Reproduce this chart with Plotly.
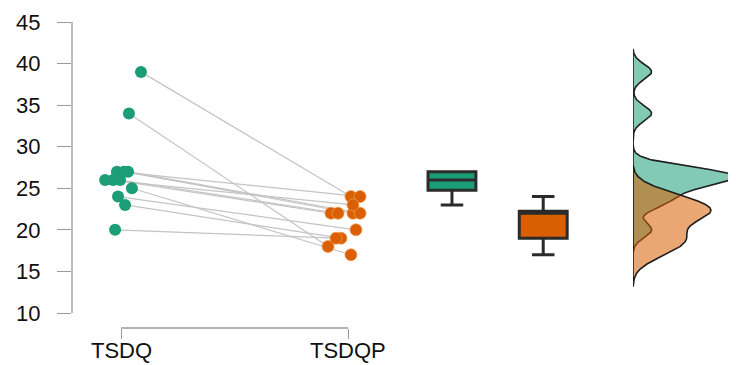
import numpy as np
import plotly.graph_objects as go

# ---- data ----
categories = ["TSDQ", "TSDQP"]
tsdq = [39, 34, 27, 27, 27, 26, 26, 26, 25, 24, 23, 20]
tsdqp = [24, 18, 24, 22, 22, 23, 22, 22, 17, 20, 19, 19]
jitter_tsdq = [0.088, 0.035, -0.018, 0.013, 0.031, -0.070, -0.035, -0.004, 0.048, -0.013, 0.018, -0.026]
jitter_tsdqp = [0.013, -0.088, 0.053, 0.022, 0.053, 0.022, -0.075, -0.044, 0.013, 0.035, -0.031, -0.053]
y_ticks = [10, 15, 20, 25, 30, 35, 40, 45]

GREEN = "#1b9e77"
ORANGE = "#d95f02"
FONT = "Liberation Sans"

# page body has an 8px margin: figure pixel = screen pixel - 8
OFF = 8
W, H = 736 - OFF, 365 - OFF
ML, MR, MT = 72 - OFF, 0, 22 - OFF
MB = H - (328 - OFF)
px_per_unit_x = 227.0
x_lo = 1 - (121 - 72) / px_per_unit_x
x_hi = x_lo + (W - ML - MR) / px_per_unit_x
px_per_unit_y = 291 / 35.0
y_lo = 45 - (H - MT - MB) / px_per_unit_y

xa = [1 + j for j in jitter_tsdq]
xb = [2 + j for j in jitter_tsdqp]

fig = go.Figure()

# connecting lines
lx, ly = [], []
for x1, y1, x2, y2 in zip(xa, tsdq, xb, tsdqp):
    lx += [x1, x2, None]
    ly += [y1, y2, None]
fig.add_trace(go.Scatter(x=lx, y=ly, mode="lines",
                         line=dict(color="#c4c4c4", width=1.2),
                         hoverinfo="skip", showlegend=False))

fig.add_trace(go.Scatter(x=xa, y=tsdq, mode="markers",
                         marker=dict(color=GREEN, size=12, line=dict(width=0)),
                         showlegend=False))
fig.add_trace(go.Scatter(x=xb, y=tsdqp, mode="markers",
                         marker=dict(color=ORANGE, size=12,
                                     line=dict(width=1, color="rgba(240,150,80,0.8)")),
                         showlegend=False))


# boxplots (R-style stats)
def stats(v):
    a = np.array(v, dtype=float)
    q1, med, q3 = np.percentile(a, [25, 50, 75])
    iqr = q3 - q1
    lo = a[a >= q1 - 1.5 * iqr].min()
    hi = a[a <= q3 + 1.5 * iqr].max()
    return q1, med, q3, lo, hi


box_pos = [2.458, 2.86]
for vals, pos, col in [(tsdq, box_pos[0], GREEN), (tsdqp, box_pos[1], ORANGE)]:
    q1, med, q3, lo, hi = stats(vals)
    fig.add_trace(go.Box(x=[pos], q1=[q1], median=[med], q3=[q3],
                         lowerfence=[lo], upperfence=[hi],
                         width=0.211, whiskerwidth=0.47,
                         fillcolor=col, line=dict(color="#2b2b2b", width=3),
                         boxpoints=False, showlegend=False, hoverinfo="skip"))


# densities (gaussian KDE, bw.nrd0, cut=3)
def kde(v):
    a = np.array(v, dtype=float)
    n = len(a)
    sd = a.std(ddof=1)
    q1, q3 = np.percentile(a, [25, 75])
    bw = 0.9 * min(sd, (q3 - q1) / 1.34) * n ** -0.2
    g = np.linspace(a.min() - 3 * bw, a.max() + 3 * bw, 512)
    d = np.exp(-0.5 * ((g[:, None] - a[None, :]) / bw) ** 2).sum(axis=1) / (n * bw * np.sqrt(2 * np.pi))
    return g, d


dens = []
for vals, fill in [(tsdq, "rgba(27,158,119,0.55)"), (tsdqp, "rgba(217,95,2,0.55)")]:
    g, d = kde(vals)
    dens.append(d.max())
    fig.add_trace(go.Scatter(x=np.concatenate([[0], d, [0, 0]]),
                             y=np.concatenate([[g[0]], g, [g[-1], g[0]]]),
                             xaxis="x2", yaxis="y", mode="lines", fill="toself",
                             fillcolor=fill, line=dict(color="#1e1e1e", width=1.6),
                             hoverinfo="skip", showlegend=False))

dom0 = (633 - 72) / (736 - 72)

cat_labels = [dict(x=i + 1, y=0, xref="x", yref="paper", text=c, showarrow=False,
                   xanchor="center", yanchor="middle", yshift=-22, borderpad=0,
                   font=dict(size=22, family=FONT, color="#111"))
              for i, c in enumerate(categories)]

fig.update_layout(
    width=W, height=H,
    margin=dict(l=ML, r=MR, t=MT, b=MB, pad=0, autoexpand=False),
    paper_bgcolor="white", plot_bgcolor="white",
    font=dict(family=FONT, color="#1a1a1a", size=22),
    xaxis=dict(range=[x_lo, x_hi], domain=[0, 1], tickvals=[1, 2], ticktext=categories,
               showticklabels=False,
               ticks="outside", ticklen=10, tickwidth=1.3, tickcolor="#9a9a9a",
               showline=False, showgrid=False, zeroline=False, automargin=False),
    xaxis2=dict(domain=[dom0, 1], range=[0, max(dens) * 1.01], anchor="y",
                visible=False, showgrid=False, zeroline=False),
    yaxis=dict(range=[y_lo, 45], tickvals=y_ticks, ticks="outside", ticklen=14,
               tickwidth=1.3, tickcolor="#9a9a9a", ticklabelstandoff=12,
               showline=False, showgrid=False, zeroline=False, automargin=False,
               tickfont=dict(size=22, family=FONT, color="#111")),
    annotations=cat_labels,
    shapes=[
        dict(type="line", xref="paper", yref="y", x0=0, x1=0, y0=10, y1=45,
             line=dict(color="#9a9a9a", width=1.3)),
        dict(type="line", xref="x", yref="paper", x0=1, x1=2, y0=0, y1=0,
             line=dict(color="#9a9a9a", width=1.3)),
    ],
)

fig.write_html("out.html")
